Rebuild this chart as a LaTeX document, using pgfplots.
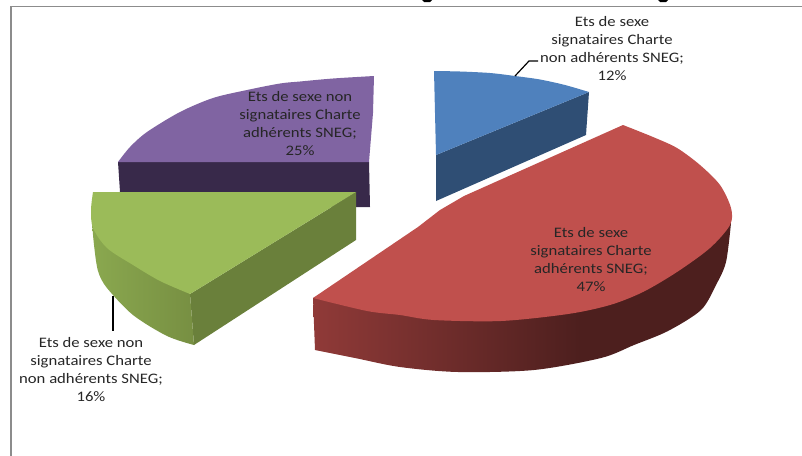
\documentclass[border=0pt]{standalone}
\usepackage{pgfplots}
\pgfplotsset{compat=1.18}
\usepackage{fontspec}
\setmainfont{Carlito}
\newfontfamily\labelfont[FakeStretch=1.15]{Carlito}
\definecolor{blueTop}{HTML}{4F81BD}
\definecolor{blueSide}{HTML}{2F4E74}
\definecolor{redTop}{HTML}{C0504D}
\definecolor{redSideA}{HTML}{903A38}
\definecolor{redSideB}{HTML}{4D1F1E}
\definecolor{greenTop}{HTML}{9BBB59}
\definecolor{greenSideA}{HTML}{8AA84F}
\definecolor{greenSideB}{HTML}{778F42}
\definecolor{greenCut}{HTML}{6A803B}
\definecolor{purpleTop}{HTML}{8064A2}
\definecolor{purpleSide}{HTML}{38294A}
\definecolor{frame}{HTML}{8C8C8C}
% rim of the red slice: fades to the dark tone, then stays flat
\pgfdeclarehorizontalshading{redrim}{100bp}{
  color(0bp)=(redSideA); color(25bp)=(redSideA); color(57bp)=(redSideB); color(100bp)=(redSideB)}
\newcommand{\slicelabel}[5]{\node[align=center,font=\labelfont\fontsize{14.5}{18}\selectfont,text=black!85,anchor=center]
  at (axis cs:#1,#2) {#3\\#4\\#5};}
\begin{document}
\begin{tikzpicture}
\begin{axis}[
  width=802pt, height=455pt, scale only axis,
  xmin=0, xmax=802, ymin=0, ymax=455, y dir=reverse,
  ticks=none, axis line style={draw=none}, clip=true,
]
% chart frame, open at the right and at the bottom
\addplot[frame, line width=1.8pt] coordinates {(11,456) (11,6.5) (803,6.5)};

% lower ends of the title letters, cut by the top edge
\addplot[draw=none, fill=black] coordinates {(422,0) (432,0) (430,2) (424,2)} -- cycle;
\addplot[draw=none, fill=black] coordinates {(658,0) (668,0) (666,2) (660,2)} -- cycle;

% purple slice
\addplot[draw=none, fill=purpleSide] coordinates {(118,162) (369,162) (370,207) (121,207)} -- cycle;
\addplot[draw=none, fill=purpleTop, smooth, tension=0.5] coordinates {
  (374,76) (333,78.5) (300,81.5) (280,83.5) (247,90) (213,98) (180,112) (147,132) (130,147) (118,162)}
  -- (axis cs:369,162) -- (axis cs:373,113) -- cycle;

% green slice
\addplot[draw=none, fill=greenCut] coordinates {(190,294) (356,192) (356,240) (194,345)} -- cycle;
\addplot[draw=none, left color=greenSideA, right color=greenSideB, smooth, tension=0.5] coordinates {
  (92,222) (94,245) (98,271) (107,288) (133,315) (167,336) (194,345)}
  -- (axis cs:190,294) -- (axis cs:110,230) -- cycle;
\addplot[draw=none, fill=greenTop, smooth, tension=0.5] coordinates {
  (93,192) (91,210) (93,228) (107,248) (133,265) (160,281) (190,294)}
  -- (axis cs:356,192) -- cycle;

% blue slice
\addplot[draw=none, fill=blueSide] coordinates {(436,155) (589,92) (586,135) (436,201)} -- cycle;
\addplot[draw=none, fill=blueTop, smooth, tension=0.5] coordinates {
  (434,71) (460,71.5) (490,73) (515,76) (540,79.5) (565,85) (589,92)}
  -- (axis cs:436,155) -- cycle;

% red slice
\addplot[draw=none, shading=redrim, smooth, tension=0.5] coordinates {
  (731,223) (726,262) (716,285) (701,310) (668,331) (634,345) (601,358) (534,370) (458,372) (400,367) (355,358) (315,350)}
  -- (axis cs:313,298) -- (axis cs:500,250) -- cycle;
\addplot[draw=none, fill=redTop, smooth, tension=0.5] coordinates {
  (623,125) (653,137) (677,148) (700,165) (720,185) (731,208) (730,225)
  (710,248) (677,272) (643,292) (610,305) (568,314) (501,321) (434,320) (400,315) (367,311) (313,298)}
  -- (axis cs:418,227) -- (axis cs:440,210) -- (axis cs:464,196) -- cycle;

% leader lines
\addplot[black, line width=1.2pt] coordinates {(515,76) (529,61) (538,61)};
\addplot[black, line width=1.2pt] coordinates {(113,296) (113,331)};

% slice labels
\slicelabel{612}{49}{Ets de sexe\\signataires Charte}{non adhérents SNEG;}{12\%}
\slicelabel{300}{124}{Ets de sexe non\\signataires Charte}{adhérents SNEG;}{25\%}
\slicelabel{591}{260}{Ets de sexe\\signataires Charte}{adhérents SNEG;}{47\%}
\slicelabel{91}{370}{Ets de sexe non\\signataires Charte}{non adhérents SNEG;}{16\%}
\end{axis}
\end{tikzpicture}
\end{document}
